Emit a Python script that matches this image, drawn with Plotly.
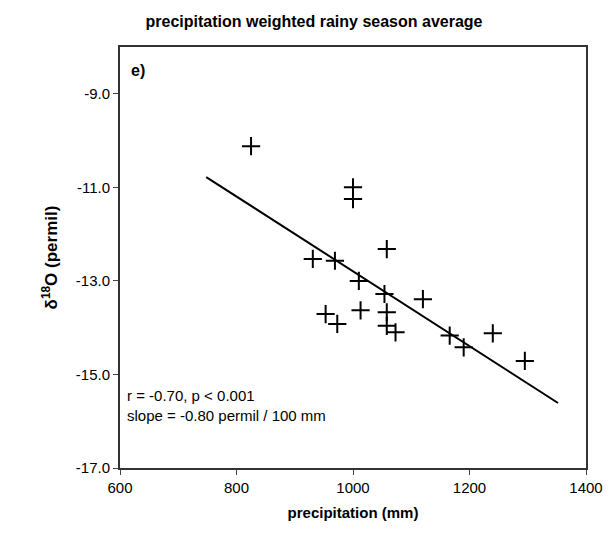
import plotly.graph_objects as go

# precipitation (mm) and d18O (permil)
precip = [825, 1000, 1000, 1058, 931, 969, 1010, 1054, 1120, 953, 1013, 1058,
          973, 1058, 1073, 1166, 1190, 1240, 1295]
d18o = [-10.12, -11.0, -11.25, -12.32, -12.53, -12.57, -13.0, -13.28, -13.39,
        -13.71, -13.63, -13.67, -13.92, -13.96, -14.10, -14.17, -14.42, -14.12, -14.71]
fit_x = [748, 1352]
fit_y = [-10.78, -15.61]

fig = go.Figure()
fig.add_trace(go.Scatter(x=precip, y=d18o, mode="markers",
                         marker=dict(symbol="cross-thin", size=13,
                                     line=dict(color="black", width=2))))
fig.add_trace(go.Scatter(x=fit_x, y=fit_y, mode="lines",
                         line=dict(color="black", width=2)))

font = "Liberation Sans, Arial, sans-serif"
fig.update_layout(
    width=612, height=541, showlegend=False,
    plot_bgcolor="white", paper_bgcolor="white",
    margin=dict(l=112, r=34, t=39, b=81),
    font=dict(family=font, size=15, color="black"),
    title=dict(text="<b>precipitation weighted rainy season average</b>",
               x=0.5, xanchor="center", y=0.975, yanchor="middle",
               font=dict(size=16)),
)
fig.update_xaxes(range=[600, 1400], tickvals=[600, 800, 1000, 1200, 1400],
                 tickfont=dict(size=15),
                 showgrid=False, zeroline=False, showline=True, mirror=True,
                 linecolor="#333", linewidth=2, ticks="outside", ticklen=5,
                 title=dict(text="<b>precipitation (mm)</b>", standoff=12,
                            font=dict(size=15)))
fig.update_yaxes(range=[-17, -8], tickvals=[-17, -15, -13, -11, -9],
                 ticktext=["-17.0", "-15.0", "-13.0", "-11.0", "-9.0"],
                 tickfont=dict(size=15),
                 showgrid=False, zeroline=False, showline=True, mirror=True,
                 linecolor="#333", linewidth=2, ticks="outside", ticklen=5,
                 title=dict(text="<b>δ<sup>18</sup>O (permil)</b>", standoff=14,
                            font=dict(size=17)))
fig.add_annotation(x=0.02, y=0.97, xref="paper", yref="paper", showarrow=False,
                   xanchor="left", yanchor="top", text="<b>e)</b>", font=dict(size=16))
fig.add_annotation(x=0.01, y=0.1, xref="paper", yref="paper", showarrow=False,
                   xanchor="left", yanchor="bottom", align="left",
                   text="r = -0.70, p < 0.001<br>slope = -0.80 permil / 100 mm",
                   font=dict(size=15))

fig.write_html("out.html")
